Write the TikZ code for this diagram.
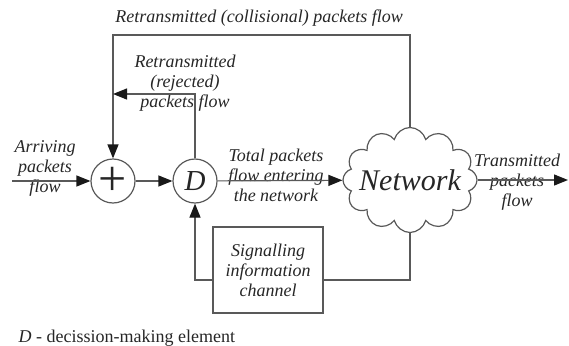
\documentclass[tikz,border=0pt]{standalone}
\usepackage{fontspec}
\setmainfont{Liberation Serif}
\usetikzlibrary{arrows.meta,shapes.symbols}

\begin{document}
\begin{tikzpicture}[x=1pt, y=-1pt, line width=1.2pt, color=black!65, text=black!85,
  lbl/.style = {font=\fontsize{18}{20}\selectfont\itshape, align=center, inner sep=0pt},
  sum/.style = {draw, circle, minimum size=44pt, inner sep=0pt},
  arr/.style = {-{Triangle[length=14pt,width=11pt,fill=black!90,color=black!90]}}]
\useasboundingbox (0,0) rectangle (569,345);
\node[sum, font=\fontsize{50}{50}\selectfont] (plus) at (113,181) {+};
\node[sum, font=\fontsize{29}{29}\selectfont\itshape] (d) at (195,181) {D};
\node[draw, cloud, cloud puffs=12, cloud puff arc=150, cloud ignores aspect, minimum width=134pt, minimum height=105pt, inner sep=0pt] (net) at (410,180) {};
\node[font=\fontsize{30}{30}\selectfont\itshape, inner sep=0pt] (netlbl) at (net.center) {Network};
\node[draw, lbl, minimum width=110pt, minimum height=86pt] (sig) at (268,270) {Signalling\\information\\channel};
% labels
\node[lbl] (title) at (259,18) {Retransmitted (collisional) packets flow};
\node[lbl] (rejlbl) at (185,83) {Retransmitted\\(rejected)\\packets flow};
\node[lbl] (arrlbl) at (45,168) {Arriving\\packets\\flow};
\node[lbl] (totlbl) at (276,175) {Total packets\\flow entering\\the network};
\node[lbl] (trlbl) at (517,182) {Transmitted\\packets\\flow};
\node[font=\fontsize{18}{20}\selectfont, anchor=west, inner sep=0pt] (note) at (18,338) {\textit{D} - decission-making element};
\coordinate (in) at (12,181);
\coordinate (out) at (568,180);
\coordinate (top) at (0,35);
\coordinate (rj) at (0,94);
\coordinate (fb) at (0,280);
% flows
\draw[arr] (in) -- (plus);
\draw[arr] (plus) -- (d);
\draw[arr] (d) -- (net);
\draw[arr] (net) -- (out);
\draw[arr] (net.north) -- (net.north |- top) -| (plus.north);
\draw[arr] (d.north) |- (plus.north |- rj);
\draw (net.south) |- (sig.east |- fb);
\draw[arr] (sig.west |- fb) -| (d.south);
\end{tikzpicture}
\end{document}
